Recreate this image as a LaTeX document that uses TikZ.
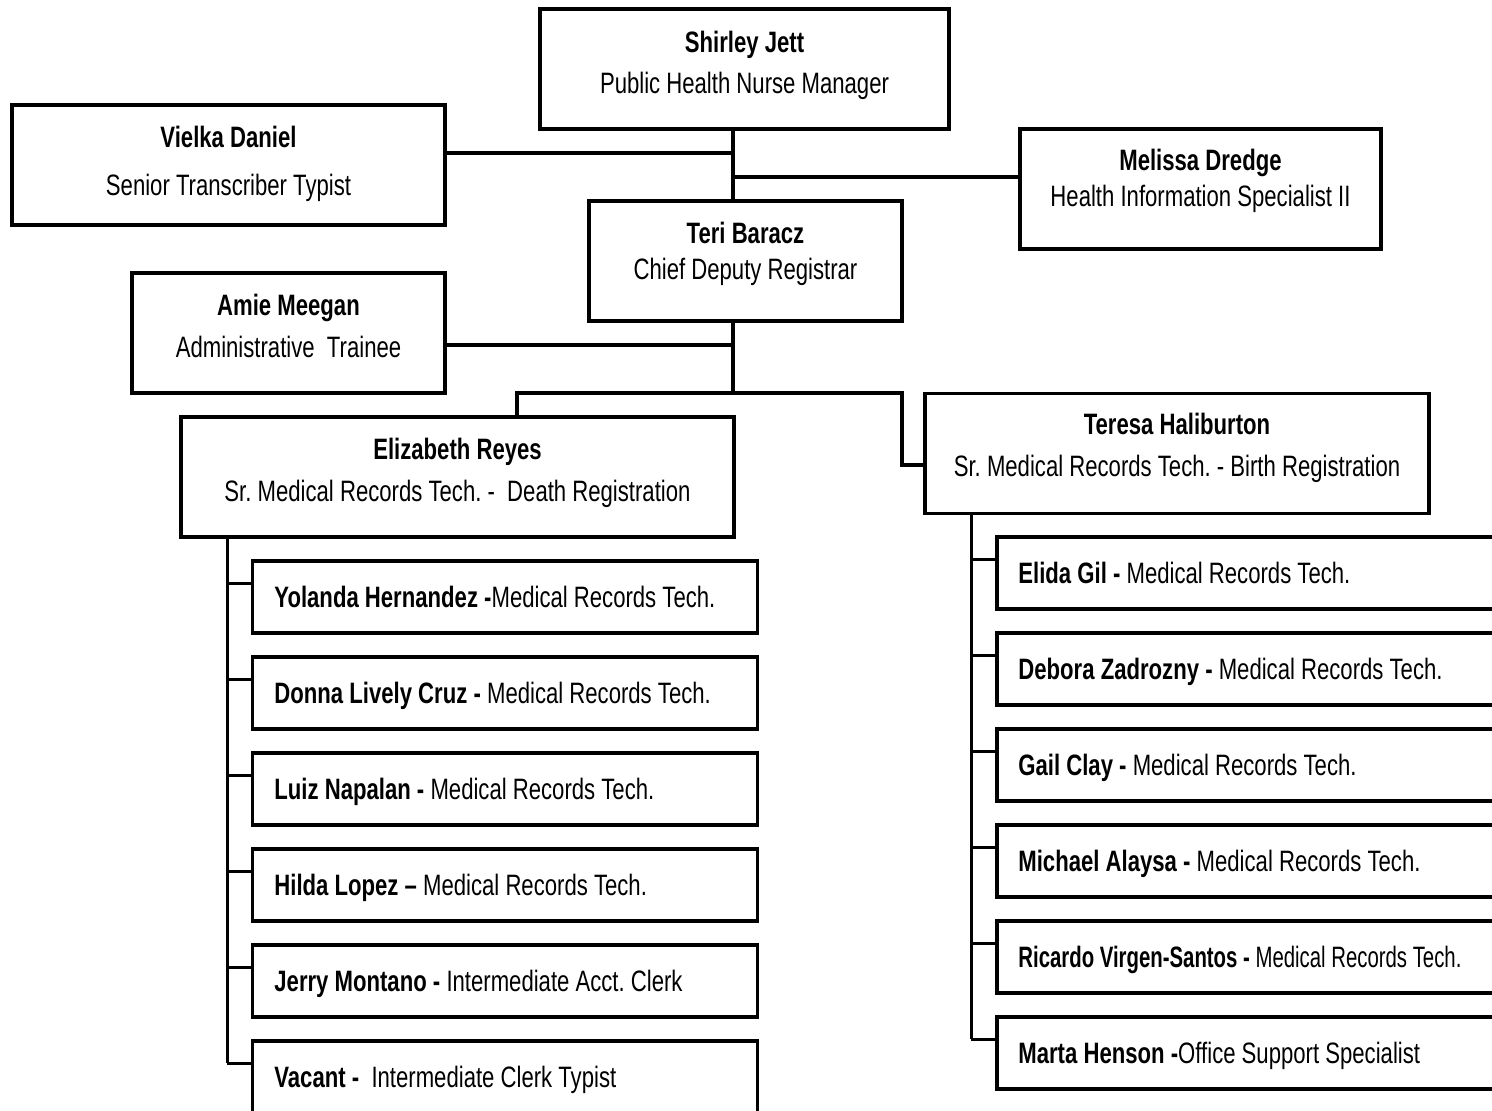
\documentclass[tikz,border=0pt]{standalone}
\usepackage{fontspec}
\usepackage{graphicx}
\usetikzlibrary{calc}
\setmainfont{Liberation Sans}[FakeStretch=0.75]
\frenchspacing
\newcommand{\orgsize}{\fontsize{29.5}{34}\selectfont}
\begin{document}
\begin{tikzpicture}[x=1pt,y=-1pt,
  box/.style={draw=black, line width=3.6pt, rectangle, inner sep=0pt, fill=white},
  wire/.style={draw=black, line width=3.2pt},
  nm/.style={font=\orgsize\bfseries, anchor=base, inner sep=0pt},
  ttl/.style={font=\orgsize, anchor=base, inner sep=0pt},
  row/.style={font=\orgsize, anchor=base west, inner sep=0pt}]

% page frame
\fill[white] (0,0) rectangle (1492,1111);
\clip (0,0) rectangle (1492,1111);

% upper management boxes
\node[box, minimum width=409pt, minimum height=120pt] (shirley) at (744.5,69) {};
\node[box, minimum width=433pt, minimum height=120pt] (vielka) at (228.5,165) {};
\node[box, minimum width=361pt, minimum height=120pt] (melissa) at (1200.5,189) {};
\node[box, minimum width=313pt, minimum height=120pt] (teri) at (745.5,261) {};
\node[box, minimum width=313pt, minimum height=120pt] (amie) at (288.5,333) {};
\node[box, minimum width=553pt, minimum height=120pt] (eliz) at (457.5,477) {};
\node[box, minimum width=504pt, minimum height=120pt] (teresa) at (1177,453.5) {};

\node[nm]  (shirleyN) at (744.5,52.5) {Shirley Jett};
\node[ttl] (shirleyT) at (744.5,93.5) {Public Health Nurse Manager};
\node[nm]  (vielkaN) at (228.5,147) {Vielka Daniel};
\node[ttl] (vielkaT) at (228.5,195) {Senior Transcriber Typist};
\node[nm]  (melissaN) at (1200.5,170.5) {Melissa Dredge};
\node[ttl] (melissaT) at (1200.5,206.5) {Health Information Specialist II};
\node[nm]  (teriN) at (745.5,243) {Teri Baracz};
\node[ttl] (teriT) at (745.5,279) {Chief Deputy Registrar};
\node[nm]  (amieN) at (288.5,315) {Amie Meegan};
\node[ttl] (amieT) at (288.5,357) {Administrative\ \ Trainee};
\node[nm]  (elizN) at (457.5,459.5) {Elizabeth Reyes};
\node[ttl] (elizT) at (457.5,501.5) {Sr. Medical Records Tech. -\ \ Death Registration};
\node[nm]  (teresaN) at (1177,434.5) {Teresa Haliburton};
\node[ttl] (teresaT) at (1177,476.5) {Sr. Medical Records Tech. - Birth Registration};

% death registration staff
\foreach \i/\txt in {
  1/{\textbf{Yolanda Hernandez -}Medical Records Tech.},
  2/{\textbf{Donna Lively Cruz -} Medical Records Tech.},
  3/{\textbf{Luiz Napalan -} Medical Records Tech.},
  4/{\textbf{Hilda Lopez –} Medical Records Tech.},
  5/{\textbf{Jerry Montano -} Intermediate Acct. Clerk},
  6/{\textbf{Vacant -}\ \ Intermediate Clerk Typist}}{
  \node[box, minimum width=505pt, minimum height=72pt] (l\i) at (505,{501+96*\i}) {};
  \node[row] (l\i t) at ($(l\i.west)+(23.5,10.5)$) {\txt};
  \coordinate (ls\i) at ($(l\i.north west)+(-23.5,24)$);
  \draw[wire] (ls\i) -- (ls\i -| l\i.west);
}

% birth registration staff
\foreach \i/\txt in {
  1/{\textbf{Elida Gil -} Medical Records Tech.},
  2/{\textbf{Debora Zadrozny -} Medical Records Tech.},
  3/{\textbf{Gail Clay -} Medical Records Tech.},
  4/{\textbf{Michael Alaysa -} Medical Records Tech.},
  5/{\scalebox{0.92}[1]{\textbf{Ricardo Virgen-Santos -} Medical Records Tech.}},
  6/{\textbf{Marta Henson -}Office Support Specialist}}{
  \node[box, minimum width=523pt, minimum height=72pt] (r\i) at (1258.5,{477+96*\i}) {};
  \node[row] (r\i t) at ($(r\i.west)+(23,10.5)$) {\txt};
  \coordinate (rs\i) at ($(r\i.north west)+(-24,24)$);
  \draw[wire] (rs\i) -- (rs\i -| r\i.west);
}

% connectors
\coordinate (tx) at (733,0);
\coordinate (jv) at (733,153);
\coordinate (jm) at (733,177);
\coordinate (ja) at (733,345);
\coordinate (jb) at (733,393);
\coordinate (jt) at (902,393);
\coordinate (ex) at (517,0);
\coordinate (ty) at (0,465);

\draw[wire] (shirley.south -| tx) -- (teri.north -| tx);
\draw[wire] (vielka.east |- jv) -- (jv);
\draw[wire] (jm) -- (melissa.west |- jm);
\draw[wire] (teri.south -| tx) -- (jb);
\draw[wire] (amie.east |- ja) -- (ja);
\draw[wire] (jb) -| (eliz.north -| ex);
\draw[wire] (jb) -- (jt) |- (teresa.west |- ty);
\draw[wire] (eliz.south -| ls1) -- (ls6);
\draw[wire] (teresa.south -| rs1) -- (rs6);
\end{tikzpicture}
\end{document}
